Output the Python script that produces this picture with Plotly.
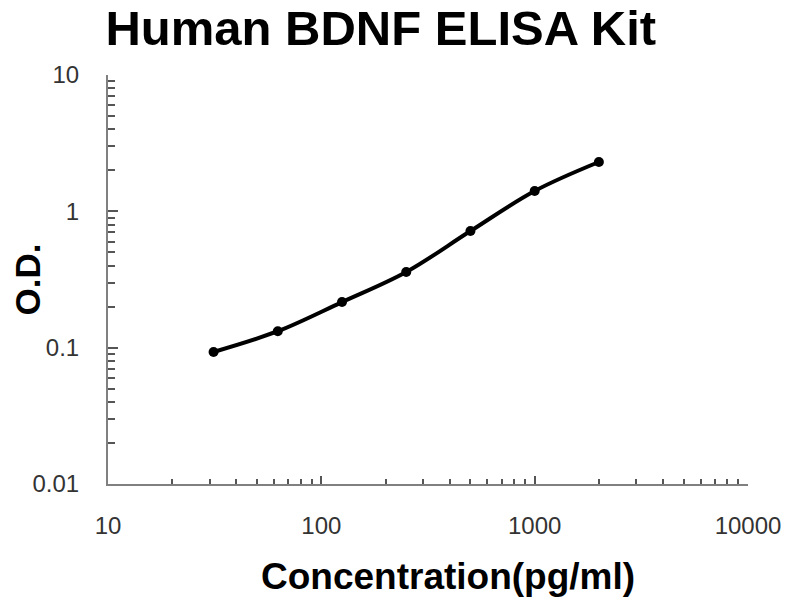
import plotly.graph_objects as go

# standard curve values
conc = [31.25, 62.5, 125, 250, 500, 1000, 2000]  # pg/ml
od = [0.093, 0.132, 0.216, 0.359, 0.717, 1.41, 2.30]

x_ticks = [10, 100, 1000, 10000]
x_labels = ["10", "100", "1000", "10000"]
y_ticks = [0.01, 0.1, 1, 10]
y_labels = ["0.01", "0.1", "1", "10"]

# minor log ticks 2..9 in each decade
x_minor = [m * 10 ** e for e in range(1, 4) for m in range(2, 10)]
y_minor = [m * 10 ** e for e in range(-2, 1) for m in range(2, 10)]

font = "Arial, Liberation Sans, sans-serif"

fig = go.Figure()
fig.add_trace(go.Scatter(
    x=conc, y=od, mode="lines+markers",
    line=dict(color="black", width=4, shape="spline", smoothing=1),
    marker=dict(color="black", size=10),
    showlegend=False,
))

# page body has an 8px margin, so the margins are shifted to compensate
fig.update_layout(
    width=800, height=600,
    paper_bgcolor="white", plot_bgcolor="white",
    margin=dict(l=100, r=60, t=67, b=124),
    title=dict(text="<b>Human BDNF ELISA Kit</b>", font=dict(family=font, size=49, color="black"),
               x=0.466, xanchor="center", y=0.967, yanchor="middle"),
)

# x title sits right of the plot centre in the original, so it is an annotation
fig.add_annotation(
    text="<b>Concentration(pg/ml)</b>", xref="paper", yref="paper",
    x=0.531, y=-0.227, xanchor="center", yanchor="middle", showarrow=False,
    font=dict(family=font, size=37, color="black"),
)

fig.update_xaxes(
    type="log", range=[1, 4], automargin=False,
    tickvals=x_ticks, ticktext=x_labels,
    ticks="inside", ticklen=8, tickwidth=1.5, tickcolor="#555",
    minor=dict(tickvals=x_minor, ticks="inside", ticklen=5, tickwidth=1.5, tickcolor="#555", showgrid=False),
    showline=True, linecolor="#808080", linewidth=2,
    showgrid=False, zeroline=False,
    tickfont=dict(family=font, size=24, color="#333"),
    ticklabelstandoff=19,
)
fig.update_yaxes(
    type="log", range=[-2, 1], automargin=False,
    tickvals=y_ticks, ticktext=y_labels,
    ticks="inside", ticklen=10, tickwidth=1.5, tickcolor="#555",
    minor=dict(tickvals=y_minor, ticks="inside", ticklen=7, tickwidth=1.5, tickcolor="#555", showgrid=False),
    showline=True, linecolor="#808080", linewidth=2,
    showgrid=False, zeroline=False,
    tickfont=dict(family=font, size=24, color="#333"),
    ticklabelstandoff=22,
    title=dict(text="<b>O.D.</b>", font=dict(family=font, size=35, color="black"), standoff=12),
)

fig.write_html("out.html")
